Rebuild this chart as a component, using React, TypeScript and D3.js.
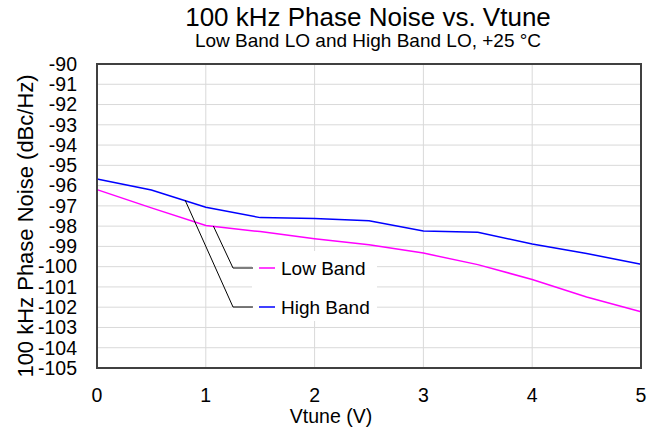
import React from "react";
import * as d3 from "d3";

const vtune = [0, 0.5, 1, 1.5, 2, 2.5, 3, 3.5, 4, 4.5, 5];
const lowBand = [-96.2, -97.1, -97.97, -98.27, -98.62, -98.92, -99.33, -99.9, -100.63, -101.5, -102.22];
const highBand = [-95.67, -96.22, -97.07, -97.58, -97.62, -97.73, -98.24, -98.3, -98.88, -99.35, -99.88];
const xTicks = [0, 1, 2, 3, 4, 5];
const yTicks = d3.range(-105, -89, 1);

const W = 654, H = 434;
const M = { left: 97, right: 641, top: 64, bottom: 368 };

export default function App() {
  const x = d3.scaleLinear().domain([0, 5]).range([M.left, M.right]);
  const y = d3.scaleLinear().domain([-105, -90]).range([M.bottom, M.top]);
  const line = d3.line<number>().x((_, i) => x(vtune[i])).y((d) => y(d));
  const font = "Liberation Sans, Arial, sans-serif";
  const lowAnchor = { x: x(1.07), y: y(-98.0) };
  const highAnchor = { x: x(0.81), y: y(-96.72) };
  const lowLegY = 268, highLegY = 307;
  return (
    <svg width={W} height={H} style={{ position: "absolute", left: 0, top: 0 }} fontFamily={font}>
      <rect width={W} height={H} fill="#fff" />
      {yTicks.map((t) => (
        <line key={"h" + t} x1={M.left} x2={M.right} y1={y(t)} y2={y(t)} stroke="#d9d9d9" strokeWidth={1} />
      ))}
      {xTicks.map((t) => (
        <line key={"v" + t} x1={x(t)} x2={x(t)} y1={M.top} y2={M.bottom} stroke="#d9d9d9" strokeWidth={1} />
      ))}
      <rect x={252} y={251} width={125} height={70} fill="#fff" />
      <path d={line(lowBand) || ""} fill="none" stroke="#ff00ff" strokeWidth={1.5} />
      <path d={line(highBand) || ""} fill="none" stroke="#0000ff" strokeWidth={1.5} />
      <rect x={M.left} y={M.top} width={M.right - M.left} height={M.bottom - M.top} fill="none" stroke="#404040" strokeWidth={2} />
      <polyline points={`${lowAnchor.x},${lowAnchor.y} ${233},${lowLegY} ${253},${lowLegY}`} fill="none" stroke="#000" strokeWidth={1} />
      <polyline points={`${highAnchor.x},${highAnchor.y} ${233},${highLegY} ${253},${highLegY}`} fill="none" stroke="#000" strokeWidth={1} />
      <line x1={259} x2={275} y1={lowLegY} y2={lowLegY} stroke="#ff00ff" strokeWidth={1.5} />
      <line x1={259} x2={275} y1={highLegY} y2={highLegY} stroke="#0000ff" strokeWidth={1.5} />
      <text x={281} y={lowLegY} dy="0.35em" fontSize={19}>Low Band</text>
      <text x={281} y={highLegY} dy="0.35em" fontSize={19}>High Band</text>
      {yTicks.map((t) => (
        <text key={"yl" + t} x={M.left - 20} y={y(t)} dy="0.35em" textAnchor="end" fontSize={19.5}>{t}</text>
      ))}
      {xTicks.map((t) => (
        <text key={"xl" + t} x={x(t)} y={402} textAnchor="middle" fontSize={19.5}>{t}</text>
      ))}
      <text x={331} y={423} textAnchor="middle" fontSize={19.5}>Vtune (V)</text>
      <text transform={`translate(33,226) rotate(-90)`} textAnchor="middle" fontSize={22}>100 kHz Phase Noise (dBc/Hz)</text>
      <text x={368} y={26} textAnchor="middle" fontSize={26}>100 kHz Phase Noise vs. Vtune</text>
      <text x={368} y={47} textAnchor="middle" fontSize={19}>Low Band LO and High Band LO, +25 °C</text>
    </svg>
  );
}
